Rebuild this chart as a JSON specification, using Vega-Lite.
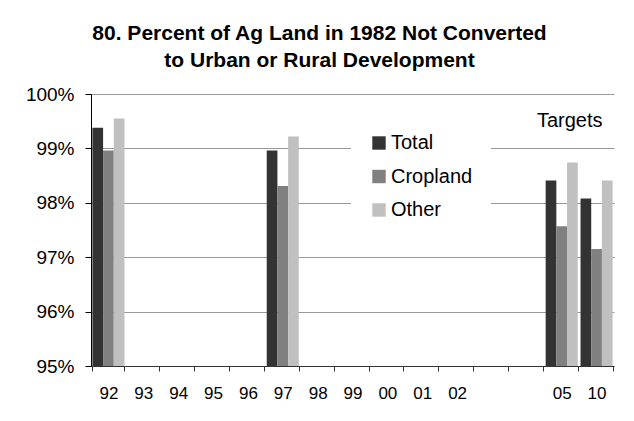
{
  "$schema": "https://vega.github.io/schema/vega-lite/v6.json",
  "autosize": {"type": "none"},
  "width": 523,
  "height": 272,
  "padding": {"left": 91, "top": 94, "right": 20, "bottom": 55},
  "background": "white",
  "title": {
    "text": ["80. Percent of Ag Land in 1982 Not Converted", "to Urban or Rural Development"],
    "anchor": "middle",
    "dx": -33,
    "offset": 14,
    "fontSize": 21,
    "fontWeight": "bold",
    "lineHeight": 27,
    "font": "Liberation Sans",
    "color": "black"
  },
  "config": {
    "view": {"stroke": null},
    "font": "Liberation Sans"
  },
  "data": {
    "values": [
      {"year": "92", "series": "Total", "pct": 99.38},
      {"year": "92", "series": "Cropland", "pct": 98.96},
      {"year": "92", "series": "Other", "pct": 99.55},
      {"year": "97", "series": "Total", "pct": 98.96},
      {"year": "97", "series": "Cropland", "pct": 98.31},
      {"year": "97", "series": "Other", "pct": 99.22},
      {"year": "05", "series": "Total", "pct": 98.41},
      {"year": "05", "series": "Cropland", "pct": 97.57},
      {"year": "05", "series": "Other", "pct": 98.74},
      {"year": "10", "series": "Total", "pct": 98.08},
      {"year": "10", "series": "Cropland", "pct": 97.15},
      {"year": "10", "series": "Other", "pct": 98.41}
    ]
  },
  "layer": [
    {
      "mark": {"type": "bar"},
      "encoding": {
        "x": {
          "field": "year",
          "type": "ordinal",
          "sort": null,
          "scale": {
            "domain": ["92", "93", "94", "95", "96", "97", "98", "99", "00", "01", "02", " ", "  ", "05", "10"],
            "paddingInner": 0.08,
            "paddingOuter": 0.04
          },
          "axis": {
            "title": null,
            "labelAngle": 0,
            "labelFontSize": 17,
            "labelColor": "black",
            "labelPadding": 14,
            "tickBand": "extent",
            "tickSize": 5,
            "tickColor": "#333",
            "domainColor": "#333",
            "grid": false
          }
        },
        "xOffset": {
          "field": "series",
          "type": "nominal",
          "sort": ["Total", "Cropland", "Other"],
          "scale": {"paddingInner": 0, "paddingOuter": 0}
        },
        "y": {
          "field": "pct",
          "type": "quantitative",
          "scale": {"domain": [95, 100], "zero": false},
          "axis": {
            "title": null,
            "values": [95, 96, 97, 98, 99, 100],
            "labelExpr": "datum.value + '%'",
            "labelFontSize": 19,
            "labelColor": "black",
            "labelPadding": 11,
            "tickSize": 6,
            "tickColor": "black",
            "domainColor": "black",
            "gridColor": "#999",
            "gridWidth": 1
          }
        },
        "y2": {"datum": 95},
        "color": {
          "field": "series",
          "type": "nominal",
          "sort": ["Total", "Cropland", "Other"],
          "scale": {"domain": ["Total", "Cropland", "Other"], "range": ["#333333", "#808080", "#c0c0c0"]},
          "legend": {
            "title": null,
            "orient": "none",
            "legendX": 260,
            "legendY": 21,
            "fillColor": "white",
            "padding": 18,
            "symbolType": "square",
            "symbolSize": 180,
            "symbolStrokeWidth": 0,
            "labelFontSize": 20,
            "labelColor": "black",
            "labelOffset": 2,
            "rowPadding": 13.5
          }
        }
      }
    },
    {
      "data": {"values": [{"label": "Targets", "year": "05", "pct": 99.4}]},
      "mark": {"type": "text", "fontSize": 20, "color": "black", "align": "center", "baseline": "alphabetic", "dx": -8},
      "encoding": {
        "x": {"field": "year", "type": "ordinal", "bandPosition": 1},
        "y": {"field": "pct", "type": "quantitative"},
        "text": {"field": "label"}
      }
    }
  ]
}
